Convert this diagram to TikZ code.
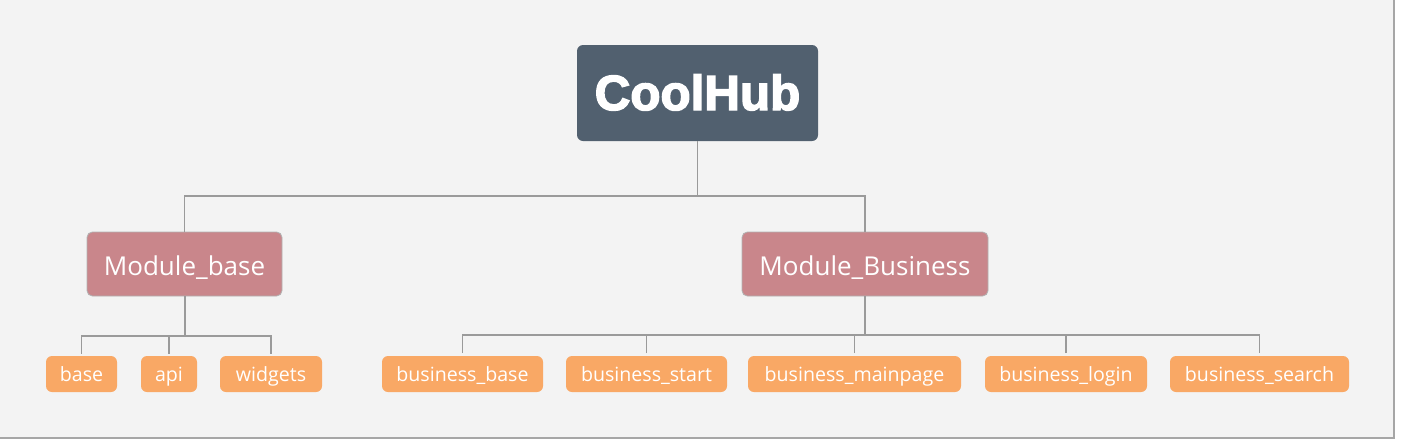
\documentclass[tikz,border=0pt]{standalone}
\usepackage{fontspec}
\setmainfont{Open Sans}
\newfontfamily\heavyfont[UprightFont={Liberation Sans Bold},UprightFeatures={FakeBold=3}]{Liberation Sans}
\usepackage{tikz}

\definecolor{bgGray}{HTML}{F3F3F3}
\definecolor{rootSlate}{HTML}{51606F}
\definecolor{modRose}{HTML}{C9868B}
\definecolor{leafOrange}{HTML}{F9A865}
\definecolor{wireGray}{HTML}{9A9A9A}

\begin{document}
\begin{tikzpicture}[x=0.75pt,y=0.75pt,yscale=-1,
  rootbox/.style={fill=rootSlate,rounded corners=4.5pt,inner sep=0pt,text=white,minimum height=72pt,text height=25.5pt,text depth=0pt,font=\heavyfont\fontsize{37}{37}\selectfont},
  modbox/.style={fill=modRose,draw=black!30,line width=0.6pt,rounded corners=4pt,inner sep=0pt,text=white,minimum height=48pt,text height=16.5pt,text depth=0pt,font=\fontsize{19.5}{19.5}\selectfont},
  leafbox/.style={fill=leafOrange,rounded corners=4.5pt,inner sep=0pt,text=white,minimum height=27pt,text height=11.6pt,text depth=0pt,font=\fontsize{14.7}{14.7}\selectfont},
  wire/.style={draw=wireGray,line width=1.1pt}]
%uncomment if require: \path (0,440); %set diagram left start at 0, and has height of 440
\useasboundingbox (0,0) rectangle (1402,440);

%Shape: page background
\fill [bgGray] (0,0) rectangle (1394,437);
\draw [black!35,line width=1.5pt] (1394,0) -- (1394,437.5) -- (0,437.5);

%Root
\node [rootbox,minimum width=180.75pt] (root) at (697.5,93) {CoolHub};

%Modules
\node [modbox,minimum width=146.25pt] (mbase) at (184.5,264) {Module\_base};
\node [modbox,minimum width=184.5pt] (mbus) at (865,264) {Module\_Business};

%Leaves of Module_base
\node [leafbox,minimum width=53.25pt] (base) at (81.5,374) {base};
\node [leafbox,minimum width=42pt] (api) at (169,374) {api};
\node [leafbox,minimum width=76.5pt] (widgets) at (271,374) {widgets};

%Leaves of Module_Business
\node [leafbox,minimum width=120.75pt] (bbase) at (462.5,374) {business\_base};
\node [leafbox,minimum width=120.75pt] (bstart) at (646.5,374) {business\_start};
\node [leafbox,minimum width=159.75pt] (bmain) at (854.5,374) {business\_mainpage};
\node [leafbox,minimum width=121.5pt] (blogin) at (1066,374) {business\_login};
\node [leafbox,minimum width=134.25pt] (bsearch) at (1259.5,374) {business\_search};

%Joints
\coordinate (jroot) at (697.5,196);
\coordinate (jbase) at (184.5,336);
\coordinate (jbus) at (865,335);

%Straight Lines
\draw [wire] (root.south) -- (jroot);
\draw [wire] (mbase.north) |- (jroot) -| (mbus.north);

\draw [wire,line width=1.5pt] (mbase.south) -- (jbase);
\draw [wire] ([yshift=-1.5pt]base.north) |- (jbase) -| ([yshift=-1.5pt]widgets.north);
\draw [wire] ([yshift=-1.5pt]api.north) -- (api.north |- jbase);

\draw [wire,line width=1.5pt] (mbus.south) -- (jbus);
\draw [wire] ([yshift=-2pt]bbase.north) |- (jbus) -| ([yshift=-2pt]bsearch.north);
\draw [wire] ([yshift=-2pt]bstart.north) -- (bstart.north |- jbus);
\draw [wire] ([yshift=-2pt]bmain.north) -- (bmain.north |- jbus);
\draw [wire] ([yshift=-2pt]blogin.north) -- (blogin.north |- jbus);

\end{tikzpicture}
\end{document}
